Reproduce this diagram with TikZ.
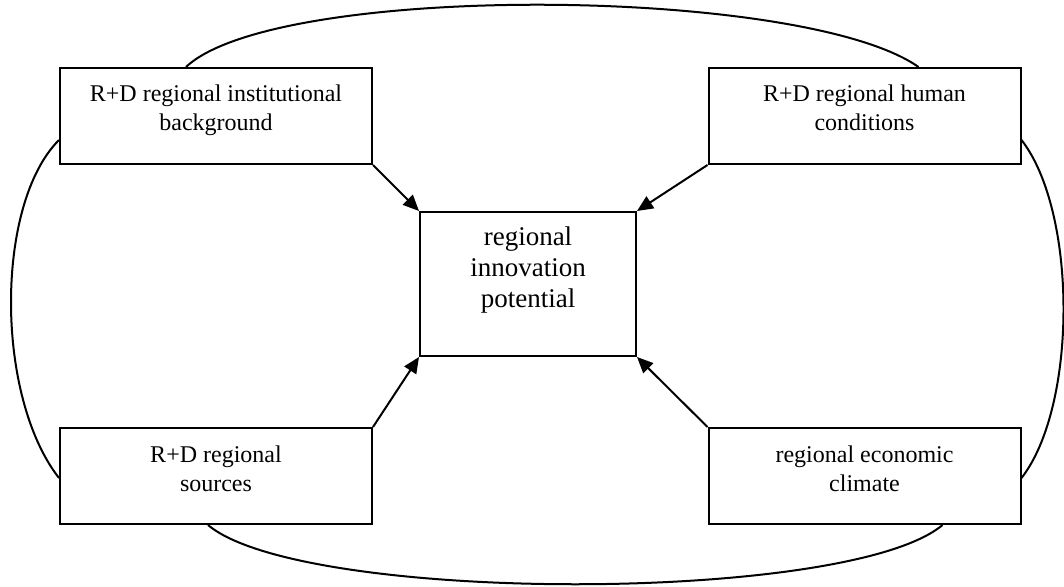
\documentclass[tikz,border=0pt]{standalone}
\usepackage{fontspec}
\setmainfont{Liberation Serif}
\usetikzlibrary{arrows.meta}

\begin{document}
\begin{tikzpicture}[x=0.5pt, y=-0.5pt,
  box/.style={draw, rectangle, line width=1pt, inner sep=0pt, align=center,
    minimum width=156pt, text height=31.5pt, text depth=16.5pt,
    font=\fontsize{12pt}{14.5pt}\selectfont},
  arr/.style={-{Triangle[length=8pt, width=7pt]}, line width=1pt},
  ring/.style={line width=1pt}]
\useasboundingbox (0,0) rectangle (1064,587);

% Factors
\node[box] (inst) at (216,116) {R+D regional institutional\\background};
\node[box] (human) at (864.5,116) {R+D regional human\\conditions};
\node[box] (sources) at (216,476) {R+D regional\\sources};
\node[box] (climate) at (864.5,476) {regional economic\\climate};

% Potential
\node[box, minimum width=108pt, text height=47.5pt, text depth=24.5pt,
  font=\fontsize{13.5pt}{15.5pt}\selectfont] (potential) at (528,284) {regional\\innovation\\potential};

% Arrows
\draw[arr] (inst.south east) -- (potential.north west);
\draw[arr] (human.south west) -- (potential.north east);
\draw[arr] (sources.north east) -- (potential.south west);
\draw[arr] (climate.north west) -- (potential.south east);

% Outer ring
\draw[ring] ([xshift=-15pt]inst.north) .. controls +(90,-85) and +(-115,-81) .. ([xshift=27pt]human.north);
\draw[ring] ([yshift=-12pt]human.east) .. controls +(56,72) and +(56,-72) .. ([yshift=-1pt]climate.east);
\draw[ring] ([xshift=-4pt]sources.south) .. controls +(94,79) and +(-94,79) .. ([xshift=39pt]climate.south);
\draw[ring] ([yshift=-12pt]inst.west) .. controls +(-64,64) and +(-64,-82) .. ([yshift=-1pt]sources.west);

\end{tikzpicture}
\end{document}
